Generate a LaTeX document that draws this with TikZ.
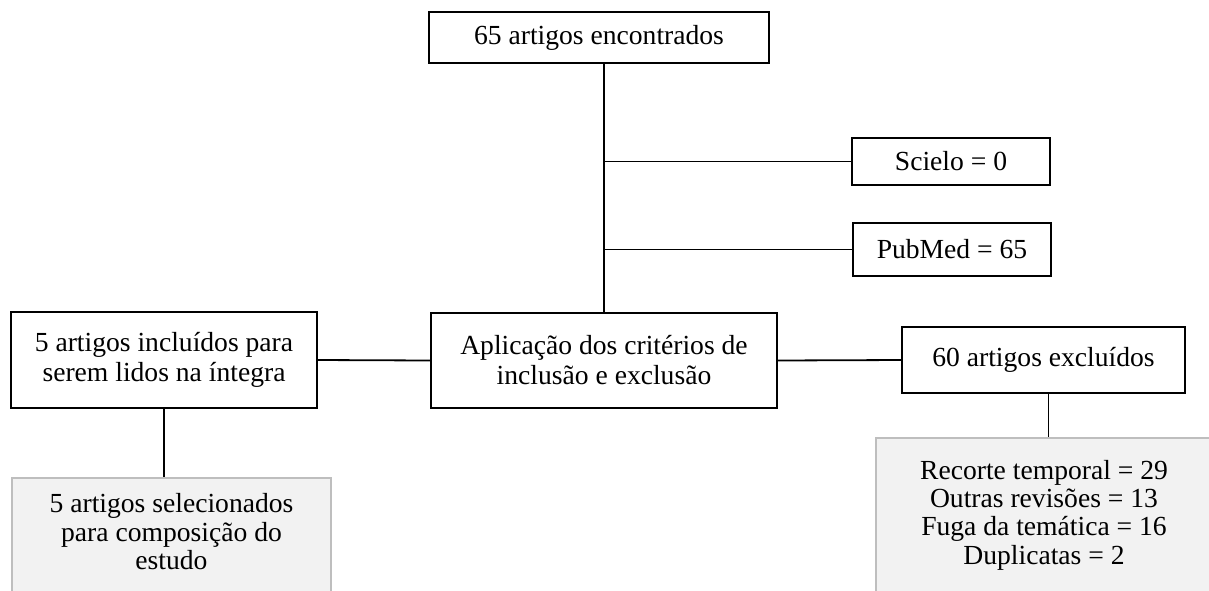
\documentclass[tikz,border=0pt]{standalone}
\usepackage{fontspec}
\setmainfont{Liberation Serif}
\usepackage{tikz}
\usetikzlibrary{positioning}
\definecolor{boxgray}{RGB}{242,242,242}
\definecolor{edgegray}{RGB}{190,190,190}
\tikzstyle{box} = [draw=black, line width=0.9pt, rectangle, align=center, inner sep=0pt, font=\fontsize{13.8}{15}\selectfont]
\tikzstyle{result} = [draw=edgegray, fill=boxgray, line width=0.9pt, rectangle, align=center, inner sep=0pt, font=\fontsize{13.8}{14.2}\selectfont]
\tikzstyle{link} = [line width=0.9pt]

\begin{document}
\begin{tikzpicture}[x=0.5pt,y=-0.5pt]
	\useasboundingbox (0,0) rectangle (1209,590);
	\clip (0,0) rectangle (1209,590);
	\node[box, minimum width=170pt, minimum height=25.5pt] (found) at (599,37.5) {65 artigos encontrados};
	\node[box, minimum width=99pt, minimum height=23.5pt] (scielo) at (951,161.5) {Scielo = 0};
	\node[box, minimum width=99pt, minimum height=26.5pt] (pubmed) at (952,249.5) {PubMed = 65};
	\node[box, minimum width=173pt, minimum height=47.5pt] (criteria) at (604,360.5) {Aplicação dos critérios de\\inclusão e exclusão};
	\node[box, minimum width=153pt, minimum height=48pt] (included) at (164,360) {5 artigos incluídos para\\serem lidos na íntegra};
	\node[box, minimum width=141.5pt, minimum height=33pt] (excluded) at (1043.5,360) {60 artigos excluídos};
	\node[result, minimum width=159.5pt, minimum height=62pt] (selected) at (171.5,540) {5 artigos selecionados\\para composição do\\estudo\\[-6pt]\mbox{}};
	\node[result, minimum width=168pt, minimum height=77pt] (reasons) at (1044,515) {Recorte temporal = 29\\Outras revisões = 13\\Fuga da temática = 16\\Duplicatas = 2};
	% ligacoes
	\draw[link] (criteria.north |- found.south) -- (criteria.north);
	\draw[link] (criteria.north |- scielo.west) -- (scielo.west);
	\draw[link] (criteria.north |- pubmed.west) -- (pubmed.west);
	\draw[link] (included.east) -- (criteria.west);
	\draw[link] (criteria.east) -- (excluded.west);
	\draw[link] (included.south) -- (included.south |- selected.north);
	\draw[link] ([xshift=2.5pt]excluded.south) -- ([xshift=2.5pt]excluded.south |- reasons.north);
\end{tikzpicture}
\end{document}
